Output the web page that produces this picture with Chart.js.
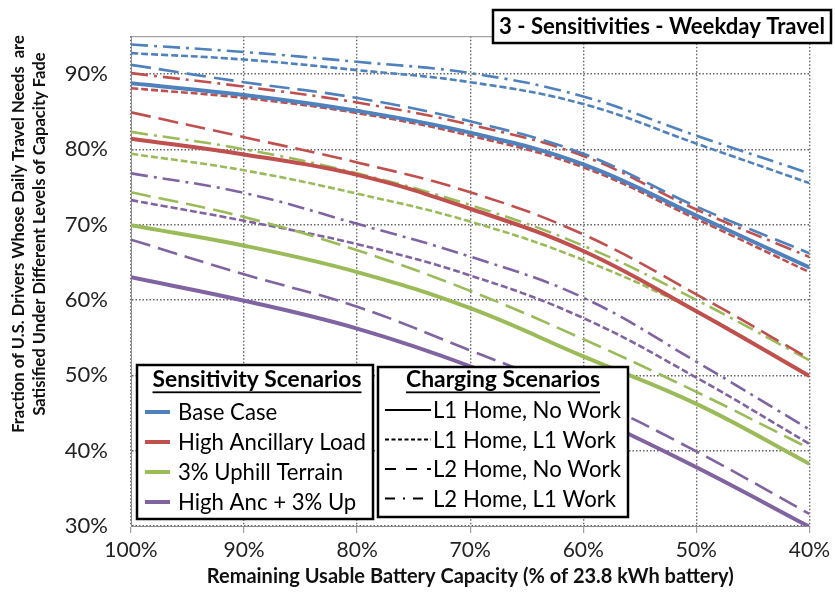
<!DOCTYPE html>
<html>
<head>
<meta charset="utf-8">
<script src="https://cdn.jsdelivr.net/npm/chart.js@4.4.1/dist/chart.umd.min.js"></script>
<style>
  html, body { margin: 0; padding: 0; background: #fff; }
  #wrap { width: 835px; height: 597px; position: relative; }
</style>
</head>
<body>
<div id="wrap"><canvas id="chart"></canvas></div>
<script>
// remaining usable capacity (% of 23.8 kWh)
const capacity = [100, 90, 80, 70, 60, 50, 40];

const scenarios = ['Base Case', 'High Ancillary Load', '3% Uphill Terrain', 'High Anc + 3% Up'];
const scenarioColors = ['#4f81bd', '#c0504d', '#9bbb59', '#8064a2'];
const charging = ['L1 Home, No Work', 'L1 Home, L1 Work', 'L2 Home, No Work', 'L2 Home, L1 Work'];
const chargingDash = [[], [7, 3], [20, 8], [17, 6, 3, 6]];
const legendDash = [[], [4, 2.5], [11, 10], [10, 8, 2, 8]];

// fraction of drivers satisfied (%), one array per scenario / charging pair
const baseL1None = [88.75, 87.2, 85.1, 82.2, 78.0, 71.2, 64.3];
const baseL1L1   = [92.75, 91.9, 90.5, 88.9, 86.0, 80.75, 75.5];
const baseL2None = [91.2, 88.9, 86.8, 83.7, 79.4, 72.4, 66.2];
const baseL2L1   = [93.9, 92.9, 91.6, 90.1, 87.0, 81.8, 76.8];

const ancL1None = [81.4, 79.3, 76.6, 72.1, 66.5, 58.5, 49.9];
const ancL1L1   = [88.1, 86.8, 84.8, 81.8, 77.6, 70.75, 63.7];
const ancL2None = [84.9, 81.6, 78.25, 74.3, 68.7, 60.75, 52.2];
const ancL2L1   = [90.1, 88.3, 86.2, 83.25, 79.1, 72.0, 65.7];

const hillL1None = [69.9, 67.2, 63.7, 58.9, 52.5, 46.2, 38.25];
const hillL1L1   = [79.4, 77.2, 74.1, 70.4, 65.3, 58.5, 49.9];
const hillL2None = [74.3, 71.0, 66.6, 61.2, 54.8, 47.8, 40.3];
const hillL2L1   = [82.3, 80.0, 76.8, 72.6, 67.2, 60.0, 52.0];

const bothL1None = [63.0, 59.9, 56.2, 51.2, 45.0, 37.8, 29.9];
const bothL1L1   = [73.25, 70.5, 67.4, 63.25, 57.6, 49.7, 40.9];
const bothL2None = [68.0, 63.4, 59.1, 53.3, 47.3, 39.9, 31.6];
const bothL2L1   = [76.8, 74.2, 70.1, 65.75, 60.3, 51.8, 42.8];

const series = [
  [baseL1None, baseL1L1, baseL2None, baseL2L1],
  [ancL1None, ancL1L1, ancL2None, ancL2L1],
  [hillL1None, hillL1L1, hillL2None, hillL2L1],
  [bothL1None, bothL1L1, bothL2None, bothL2L1]
];

const FONT = 'Lato, "Open Sans", sans-serif';

const datasets = [];
series.forEach((group, s) => {
  group.forEach((vals, c) => {
    datasets.push({
      label: scenarios[s] + ' - ' + charging[c],
      data: capacity.map((x, i) => ({ x, y: vals[i] })),
      borderColor: scenarioColors[s],
      borderWidth: c === 0 ? 4 : 2.6,
      borderDash: chargingDash[c],
      pointRadius: 0,
      fill: false,
      tension: 0.4,
      order: c === 0 ? 0 : 1
    });
  });
});

// font size that makes text span the given width
function fitSize(ctx, text, weight, width) {
  ctx.font = weight + ' 100px ' + FONT;
  return 100 * width / ctx.measureText(text).width;
}

// y title, frame, title box and the two legend boxes
const decorations = {
  id: 'decorations',
  afterDraw(chart) {
    const ctx = chart.ctx;
    const area = chart.chartArea;
    ctx.save();
    ctx.textBaseline = 'middle';

    // top edge of the plot frame
    ctx.strokeStyle = '#8c8c8c';
    ctx.lineWidth = 1;
    ctx.beginPath();
    ctx.moveTo(area.left, area.top + 0.5);
    ctx.lineTo(area.right, area.top + 0.5);
    ctx.stroke();

    // rotated two-line y title
    const yTitle = ['Fraction of U.S. Drivers Whose Daily Travel Needs  are',
                    'Satisified Under Different Levels of Capacity Fade'];
    const ySize = fitSize(ctx, yTitle[0], 'bold', 398);
    ctx.fillStyle = '#111';
    ctx.font = 'bold ' + ySize + 'px ' + FONT;
    ctx.textAlign = 'center';
    yTitle.forEach((line, i) => {
      ctx.save();
      ctx.translate(19 + i * 21, 234);
      ctx.rotate(-Math.PI / 2);
      ctx.fillText(line, 0, 0);
      ctx.restore();
    });

    const box = (x0, y0, x1, y1) => {
      ctx.fillStyle = '#fff';
      ctx.fillRect(x0, y0, x1 - x0, y1 - y0);
      ctx.strokeStyle = '#000';
      ctx.lineWidth = 2.5;
      ctx.setLineDash([]);
      ctx.strokeRect(x0, y0, x1 - x0, y1 - y0);
    };
    const heading = (text, cx, cy, width) => {
      const size = fitSize(ctx, text, 'bold', width);
      ctx.font = 'bold ' + size + 'px ' + FONT;
      ctx.textAlign = 'center';
      ctx.fillStyle = '#000';
      ctx.fillText(text, cx, cy);
      ctx.fillRect(cx - width / 2, cy + size * 0.5, width, 1.8);
    };

    // chart title box
    box(493, 10, 831, 43);
    const tSize = fitSize(ctx, '3 - Sensitivities - Weekday Travel', 'bold', 326);
    ctx.font = 'bold ' + tSize + 'px ' + FONT;
    ctx.fillStyle = '#000';
    ctx.textAlign = 'center';
    ctx.fillText('3 - Sensitivities - Weekday Travel', 662, 27);

    // sensitivity legend
    box(137, 365, 373, 519);
    heading('Sensitivity Scenarios', 257, 380, 209);
    const sSize = fitSize(ctx, 'High Ancillary Load', 'normal', 188);
    scenarios.forEach((name, i) => {
      const y = 412 + i * 30;
      ctx.strokeStyle = scenarioColors[i];
      ctx.lineWidth = 4;
      ctx.setLineDash([]);
      ctx.beginPath();
      ctx.moveTo(145, y);
      ctx.lineTo(170, y);
      ctx.stroke();
      ctx.font = sSize + 'px ' + FONT;
      ctx.textAlign = 'left';
      ctx.fillStyle = '#000';
      ctx.fillText(name, 178, y + 1);
    });

    // charging legend
    box(378, 367, 628, 517);
    heading('Charging Scenarios', 503, 380, 194);
    const cSize = fitSize(ctx, 'L1 Home, No Work', 'normal', 188);
    charging.forEach((name, i) => {
      const y = 410 + i * 29.5;
      ctx.strokeStyle = '#000';
      ctx.lineWidth = 2;
      ctx.setLineDash(legendDash[i]);
      ctx.beginPath();
      ctx.moveTo(385, y);
      ctx.lineTo(431, y);
      ctx.stroke();
      ctx.setLineDash([]);
      ctx.font = cSize + 'px ' + FONT;
      ctx.textAlign = 'left';
      ctx.fillStyle = '#000';
      ctx.fillText(name, 433, y + 1);
    });

    ctx.restore();
  }
};

new Chart(document.getElementById('chart'), {
  type: 'line',
  data: { datasets },
  options: {
    responsive: true,
    maintainAspectRatio: false,
    animation: false,
    layout: { padding: { left: 0, right: 23, top: 6, bottom: 0 } },
    plugins: { legend: { display: false }, tooltip: { enabled: false } },
    scales: {
      x: {
        type: 'linear',
        reverse: true,
        min: 40,
        max: 100,
        afterFit: scale => { scale.height = 71; },
        ticks: {
          stepSize: 10,
          padding: 5,
          color: '#222',
          font: { family: FONT, size: 21 },
          callback: v => v + '%'
        },
        grid: {
          color: '#666',
          lineWidth: 1.4,
          tickLength: 7,
          tickColor: '#8c8c8c',
          tickBorderDash: [1, 0],
          tickWidth: 1
        },
        border: { display: true, color: '#8c8c8c', width: 1, dash: [1.5, 2] },
        title: {
          display: true,
          text: 'Remaining Usable Battery Capacity (% of 23.8 kWh battery)',
          color: '#111',
          font: { family: FONT, size: 20, weight: 'bold' },
          padding: { top: 0, bottom: 8 }
        }
      },
      y: {
        min: 30,
        max: 95,
        afterFit: scale => { scale.width = 131; },
        afterBuildTicks: scale => {
          scale.ticks = scale.ticks.filter(t => t.value % 10 === 0);
        },
        ticks: {
          stepSize: 10,
          padding: 23,
          color: '#222',
          font: { family: FONT, size: 22 },
          callback: v => v + '%'
        },
        grid: {
          color: '#666',
          lineWidth: 1.4,
          drawTicks: false
        },
        border: { display: true, color: '#8c8c8c', width: 1, dash: [1.5, 2] }
      }
    }
  },
  plugins: [decorations]
});
</script>
</body>
</html>
